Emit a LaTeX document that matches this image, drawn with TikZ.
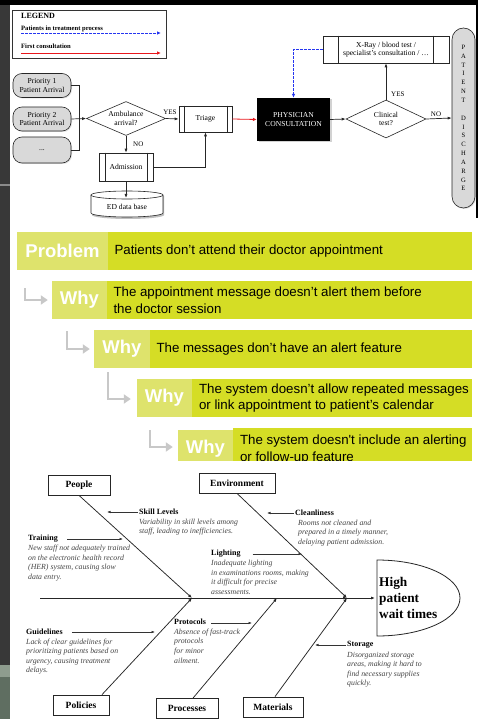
\documentclass[tikz,border=0pt]{standalone}
\usepackage{fontspec}
\setmainfont{Liberation Serif}
\newfontfamily\sansf{Liberation Sans}
\usetikzlibrary{shapes.geometric, arrows.meta, shadows, calc}

\definecolor{stripdark}{HTML}{383838}
\definecolor{stripline}{HTML}{8A8A8A}
\definecolor{stripgreenA}{HTML}{8E9C8E}
\definecolor{stripgreenB}{HTML}{5F6E61}
\definecolor{boxgray}{HTML}{D9D9D9}
\definecolor{legblue}{HTML}{2536F0}
\definecolor{legred}{HTML}{E8161B}
\definecolor{whylabel}{HTML}{DEE36C}
\definecolor{whymain}{HTML}{D5DD25}
\definecolor{whyarrow}{HTML}{C8C8C8}
\definecolor{desc}{HTML}{454545}

\begin{document}
\begin{tikzpicture}[x=1pt, y=-1pt,
  flow/.style={font=\fontsize{7.6}{8.6}\selectfont, align=center, text=black},
  fbox/.style={flow, draw=black!85, line width=0.6, fill=white, inner sep=0,
    drop shadow={opacity=0.25, shadow xshift=1pt, shadow yshift=-1pt}},
  prio/.style={fbox, fill=boxgray, rounded corners=9, minimum width=58, minimum height=24},
  decision/.style={flow, diamond, draw=black!85, line width=0.6, fill=white, inner sep=0, aspect=2.3},
  link/.style={draw=black!85, line width=0.7, -{Latex[length=4pt,width=3pt]}},
  dashlink/.style={draw=legblue, line width=0.8, dash pattern=on 2.5pt off 1.5pt, -{Latex[length=4pt,width=3.5pt]}},
  redlink/.style={draw=legred, line width=0.8, -{Latex[length=4pt,width=3.5pt]}},
  yesno/.style={font=\fontsize{7}{8}\selectfont, inner sep=0},
  legtitle/.style={font=\bfseries\fontsize{6.6}{7.6}\selectfont, anchor=west, inner sep=0},
  whylab/.style={fill=whylabel, minimum height=38, inner sep=0, text=white,
    font=\sansf\bfseries\fontsize{18.5}{20}\selectfont},
  whycell/.style={fill=whymain, minimum height=38, inner sep=0},
  whytext/.style={anchor=west, align=left, inner sep=0,
    font=\sansf\fontsize{13.3}{16.5}\selectfont},
  whyarr/.style={draw=whyarrow, line width=2.6, -{Triangle[length=7pt,width=9pt]}},
  catbox/.style={draw=black!85, line width=0.8, fill=white, inner sep=0, minimum height=20,
    font=\bfseries\fontsize{9.5}{11}\selectfont},
  bone/.style={draw=black!85, line width=0.75, -{Latex[length=4pt,width=3pt]}},
  subarr/.style={draw=black!80, line width=0.55, -{Latex[length=3.5pt,width=2.5pt]}},
  sublab/.style={anchor=west, inner sep=1pt, font=\bfseries\fontsize{8}{9}\selectfont},
  subdesc/.style={anchor=north west, align=left, inner sep=0, text=desc,
    font=\itshape\fontsize{7.8}{9.6}\selectfont}
]
\useasboundingbox (0,0) rectangle (478,719);
\fill[white] (0,0) rectangle (478,719);

% ---------- page edges ----------
\fill[stripdark] (0,0) rectangle (10,665);
\fill[stripline] (0,184) rectangle (10,186);
\fill[stripgreenA] (0,665) rectangle (10,677);
\fill[stripgreenB] (0,677) rectangle (10,719);
\fill[black] (0,0) rectangle (478,5);
\fill[black] (476,0) rectangle (478,218);

% ---------- ED patient flow ----------
\node[draw=black!80, line width=0.6, minimum width=154, minimum height=48, inner sep=0] (legend) at (89,34) {};
\node[font=\bfseries\fontsize{8}{9}\selectfont, anchor=west, inner sep=0] (legtxt) at (21,16) {LEGEND};
\node[legtitle] (legA) at (21,28.5) {Patients in treatment process};
\node[legtitle] (legB) at (21,46.5) {First consultation};
\coordinate (legAe) at (161,33);
\coordinate (legBe) at (161,53);
\draw[dashlink] (legA.south west |- legAe) -- (legAe);
\draw[redlink] (legB.south west |- legBe) -- (legBe);

\node[prio] (p1) at (42,85.5) {Priority 1\\Patient Arrival};
\node[prio] (p2) at (42,119) {Priority 2\\Patient Arrival};
\node[prio, minimum height=26] (p3) at (42,150) {...};
\coordinate (jn) at (79,119);

\node[decision, minimum width=79, minimum height=34] (amb) at (126,118.5) {Ambulance\\arrival?};
\node[fbox, minimum width=53, minimum height=26] (tri) at (205.5,119) {Triage};
\node[fbox, minimum width=54, minimum height=28] (adm) at (126,167) {Admission};
\node[flow, minimum width=73, minimum height=43, fill=black, text=white, inner sep=0,
  drop shadow={opacity=0.35, shadow xshift=1.5pt, shadow yshift=-1.5pt}] (phys) at (293.5,119.5) {PHYSICIAN\\CONSULTATION};
\node[decision, minimum width=80, minimum height=38] (clin) at (386,119) {Clinical\\test?};
\node[fbox, minimum width=126, minimum height=27] (xray) at (386,49.5) {X-Ray / blood test /\\specialist’s consultation / …};
\node[fbox, fill=boxgray, rounded corners=11.5, minimum width=23, minimum height=180,
  font=\fontsize{6.6}{8.85}\selectfont] (dis) at (463.5,118) {P\\A\\T\\I\\E\\N\\T\\[8.85pt]D\\I\\S\\C\\H\\A\\R\\G\\E};

% predefined-process side bars
\foreach \n/\l/\r in {tri/6/5, adm/7/6, xray/16/16}{
  \draw[black!85, line width=0.6] ([xshift=\l pt]\n.north west) -- ([xshift=\l pt]\n.south west)
    ([xshift=-\r pt]\n.north east) -- ([xshift=-\r pt]\n.south east);
}

% ED data base cylinder
\coordinate (edb) at (127,204);
\fill[black!25] (92,196) -- (92,215) arc(180:0:36 and 4) -- (164,196) -- cycle;
\filldraw[fill=white, draw=black!85, line width=0.6] (91,195) -- (91,213) arc(180:0:36 and 4) -- (163,195);
\filldraw[fill=white, draw=black!85, line width=0.6] (127,195) ellipse (36 and 4);
\node[flow, inner sep=0] (edbtxt) at (127,207) {ED data base};
\coordinate (edbtop) at (126,198);

% flow connectors
\draw[black!85, line width=0.7] (p1.east) -| (jn);
\draw[black!85, line width=0.7] (p3.east) -| (jn);
\draw[link] (p2.east) -- (amb.west);
\draw[link] (amb.east) -- (tri.west);
\node[yesno, anchor=south] at (170,114.5) {YES};
\draw[link] (amb.south) -- (adm.north);
\node[yesno, anchor=west] at (133,144.5) {NO};
\draw[link] (adm.south) -- (edbtop);
\draw[link] (adm.east) -| (tri.south);
\draw[redlink] (tri.east) -- (phys.west);
\draw[dashlink] (xray.west) -| (phys.north);
\draw[link] (phys.east) -- (clin.west);
\draw[link] (clin.north) -- (xray.south);
\node[yesno, anchor=west] at (391,94) {YES};
\draw[link] (clin.east) -- (dis.west);
\node[yesno, anchor=south] at (436,116.5) {NO};

% ---------- five whys ----------
\begin{scope}
\clip (10,225) rectangle (478,460);
\node[whylab, minimum width=91] (lp) at (62.5,251) {Problem};
\node[whycell, minimum width=364] (mp) at (290,251) {};
\node[whytext] (tp) at ([xshift=6.5pt]mp.west) {Patients don’t attend their doctor appointment};

\node[whylab, minimum width=55] (l1) at (79.5,300) {Why};
\node[whycell, minimum width=365] (m1) at (289.5,300) {};
\node[whytext] (t1) at ([xshift=6.5pt]m1.west) {The appointment message doesn’t alert them before\\the doctor session};

\node[whylab, minimum width=56] (l2) at (122,349) {Why};
\node[whycell, minimum width=322] (m2) at (311,349) {};
\node[whytext] (t2) at ([xshift=6.5pt]m2.west) {The messages don’t have an alert feature};

\node[whylab, minimum width=55] (l3) at (164.5,398) {Why};
\node[whycell, minimum width=280] (m3) at (332,398) {};
\node[whytext] (t3) at ([xshift=7pt]m3.west) {The system doesn’t allow repeated messages\\or link appointment to patient’s calendar};

\node[whylab, minimum width=55] (l4) at (205.5,449) {Why};
\node[whycell, minimum width=239] (m4) at (352.5,447) {};
\node[whytext] (t4) at ([xshift=7pt, yshift=-2.5pt]m4.west) {The system doesn't include an alerting\\or follow-up feature};

\coordinate (w1) at (25,288);
\coordinate (w2) at (67,331);
\coordinate (w3) at (108,372);
\coordinate (w4) at (150,430);
\draw[whyarr] (w1) |- ([xshift=-4pt]l1.west);
\draw[whyarr] (w2) |- ([xshift=-4pt]l2.west);
\draw[whyarr] (w3) |- ([xshift=-6pt]l3.west |- 0,399);
\draw[whyarr] (w4) |- ([xshift=-5pt]l4.west |- 0,447);
\end{scope}

% ---------- fishbone ----------
\node[catbox, minimum width=62] (people) at (79,485) {People};
\node[catbox, minimum width=76] (env) at (237,483) {Environment};
\node[catbox, minimum width=56] (pol) at (81,705) {Policies};
\node[catbox, minimum width=62] (proc) at (187,708.5) {Processes};
\node[catbox, minimum width=60] (mat) at (273,707) {Materials};

\coordinate (tail) at (40,598);
\coordinate (hub) at (347,598);
\coordinate (pjoin) at (192,598);
\coordinate (prjoin) at (277,598);

\node[anchor=west, align=left, inner sep=0, font=\bfseries\fontsize{13.3}{16}\selectfont] (effect) at (379,597.5) {High\\patient\\wait times};
\draw[black!85, line width=0.8] (377,560) arc(-90:90:83 and 38) -- cycle;
\coordinate (effin) at (375,598);

\draw[black!85, line width=0.75] (tail) -- (hub);
\draw[bone] ([xshift=-20pt]hub) -- (hub);
\draw[bone] (hub) -- (effin);
\draw[bone] (people.south) -- (pjoin);
\draw[bone] (env.south) -- (hub);
\draw[bone] ([xshift=21pt]pol.north) -- (pjoin);
\draw[bone] ([xshift=6pt]proc.north) -- (prjoin);
\draw[bone] ([xshift=2pt]mat.north) -- (hub);

% causes
\node[sublab] (skl) at (138,512) {Skill Levels};
\node[subdesc] at (139,518.5) {Variability in skill levels among\\staff, leading to inefficiencies.};
\coordinate (sklt) at (107,512);
\draw[subarr] (skl.west) -- (sklt);

\node[sublab] (trl) at (27,539) {Training};
\node[subdesc] at (28,545) {New staff not adequately trained\\on the electronic health record\\(HER) system, causing slow\\data entry.};
\coordinate (trlt) at (123,539);
\draw[subarr] ([xshift=8pt]trl.east) -- (trlt);

\node[sublab] (cll) at (294,513) {Cleanliness};
\node[subdesc] at (298,519.5) {Rooms not cleaned and\\prepared in a timely manner,\\delaying patient admission.};
\coordinate (cllt) at (267,513);
\draw[subarr] (cll.west) -- (cllt);

\node[sublab] (lgl) at (210,554) {Lighting};
\node[subdesc] at (211,560) {Inadequate lighting\\in examinations rooms, making\\it difficult for precise\\assessments.};
\coordinate (lglt) at (302,554);
\draw[subarr] ([xshift=11pt]lgl.east) -- (lglt);

\node[sublab] (gdl) at (25,632) {Guidelines};
\node[subdesc] at (26,638.5) {Lack of clear guidelines for\\prioritizing patients based on\\urgency, causing treatment\\delays.};
\coordinate (gdlt) at (155,632);
\draw[subarr] ([xshift=8pt]gdl.east) -- (gdlt);

\node[sublab] (prl) at (173,622) {Protocols};
\node[subdesc] at (174,628.5) {Absence of fast-track\\protocols\\for minor\\ailment.};
\coordinate (prlt) at (252,623);
\draw[subarr] ([xshift=4pt]prl.east |- prlt) -- (prlt);

\node[sublab] (stl) at (346,645) {Storage};
\node[subdesc] at (347,651.5) {Disorganized storage\\areas, making it hard to\\find necessary supplies\\quickly.};
\coordinate (stlt) at (315,645);
\draw[subarr] (stl.west) -- (stlt);

\end{tikzpicture}
\end{document}
